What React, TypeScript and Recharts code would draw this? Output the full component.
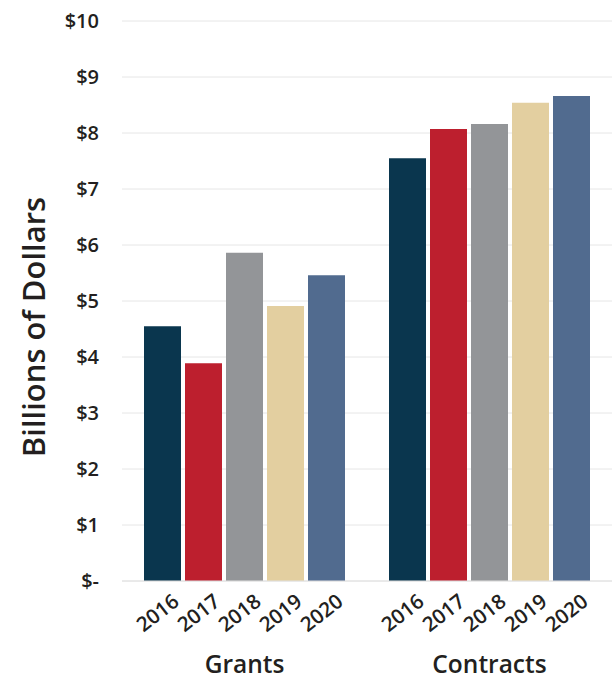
import React from "react";
import { BarChart, Bar, XAxis, YAxis, CartesianGrid, LabelList, Label } from "recharts";

const categories = ["Grants", "Contracts"];
const years = ["2016", "2017", "2018", "2019", "2020"];
const grants = [4.55, 3.89, 5.86, 4.91, 5.46];
const contracts = [7.55, 8.07, 8.16, 8.54, 8.66];
const yTicks = [0, 1, 2, 3, 4, 5, 6, 7, 8, 9, 10];
const colors = ["#0a364e", "#bd1f2e", "#939598", "#e3cfa0", "#516b8f"];

const seriesByCategory = [grants, contracts];
const data = categories.map((name, i) => {
  const row: Record<string, string | number> = { name };
  years.forEach((yr, j) => {
    row[yr] = seriesByCategory[i][j];
  });
  return row;
});

const TEXT = "#231f20";

// year label under each bar, rotated like the original
const yearLabel = (year: string) => (props: any) => {
  const { x = 0, y = 0, width = 0, height = 0 } = props;
  const ax = Number(x) + Number(width) / 2 + 18;
  const ay = Number(y) + Number(height) + 23;
  return (
    <text
      x={ax}
      y={ay}
      textAnchor="end"
      transform={`rotate(-38 ${ax} ${ay})`}
      fontSize={20.5}
      fontWeight={600}
      fill={TEXT}
    >
      {year}
    </text>
  );
};

const GroupTick = (props: any) => {
  const { x, y, payload } = props;
  return (
    <text x={x} y={y + 86} textAnchor="middle" fontSize={24.5} fontWeight={600} fill={TEXT}>
      {payload.value}
    </text>
  );
};

const YTitle = (props: any) => {
  const vb = props.viewBox || { x: 0, y: 0, height: 0 };
  const cx = vb.x + 33;
  const cy = vb.y + vb.height / 2 + 26;
  return (
    <text
      x={cx}
      y={cy}
      transform={`rotate(-90 ${cx} ${cy})`}
      textAnchor="middle"
      dominantBaseline="central"
      fontSize={31}
      fontWeight={600}
      fill={TEXT}
    >
      Billions of Dollars
    </text>
  );
};

export default function App() {
  return (
    <div
      style={{
        position: "fixed",
        left: 0,
        top: 0,
        width: 616,
        height: 681,
        overflow: "hidden",
        background: "#fff",
        fontFamily: "'Open Sans', sans-serif",
      }}
    >
      <BarChart
        width={616}
        height={681}
        data={data}
        margin={{ top: 21, right: 4, bottom: 0, left: 0 }}
        barSize={37}
        barGap={4}
      >
        <CartesianGrid vertical={false} stroke="#e6e6e6" />
        <XAxis
          dataKey="name"
          height={100}
          tickLine={false}
          axisLine={{ stroke: "#e0e0e0" }}
          tickMargin={0}
          tick={<GroupTick />}
        />
        <YAxis
          width={122}
          domain={[0, 10]}
          ticks={yTicks}
          tickLine={false}
          axisLine={false}
          tickMargin={17}
          tick={{ fill: TEXT, fontSize: 20, fontWeight: 600 }}
          tickFormatter={(v: number) => (v === 0 ? "$-" : `$${v}`)}
        >
          <Label content={<YTitle />} />
        </YAxis>
        {years.map((yr, j) => (
          <Bar key={yr} dataKey={yr} fill={colors[j]} isAnimationActive={false}>
            <LabelList dataKey={yr} content={yearLabel(yr)} />
          </Bar>
        ))}
      </BarChart>
    </div>
  );
}
